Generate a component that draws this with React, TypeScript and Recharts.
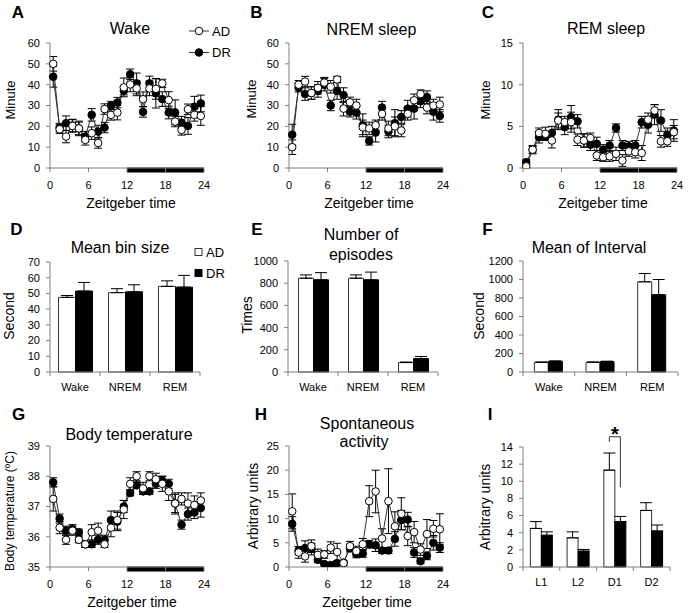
import React from 'react';
import {
  LineChart,
  Line,
  BarChart,
  Bar,
  XAxis,
  YAxis,
  ErrorBar,
  ReferenceLine,
  LabelList,
} from 'recharts';

const FONT = '"Liberation Sans", Arial, Helvetica, sans-serif';
const AXIS = '#808080';

// ---------- time-course data (ZT bins) ----------
const zt = [0.5, 1.5, 2.5, 3.5, 4.5, 5.5, 6.5, 7.5, 8.5, 9.5, 10.5, 11.5, 12.5, 13.5, 14.5, 15.5, 16.5, 17.5, 18.5, 19.5, 20.5, 21.5, 22.5, 23.5];
const ztTicks = [0, 6, 12, 18, 24];
const darkPhase = [12, 24];

const wakeAD = [50, 18.6, 15.1, 20.2, 19, 13.5, 16.7, 12, 28.3, 25.5, 26.6, 38.7, 40.1, 38.2, 33, 38.2, 38, 40.6, 32.6, 22.3, 18.3, 28.2, 25.5, 25];
const wakeADErr = [3.5, 2, 3, 3, 3, 2.5, 3, 2.5, 2.5, 2.5, 3.5, 4.5, 3.5, 3.5, 3.5, 3.5, 5, 2, 4, 2.5, 2.5, 2.5, 3, 4.5];
const wakeDR = [43.8, 19.4, 21.5, 20.4, 19, 15.1, 25.5, 17.5, 19.4, 30, 31.4, 37.1, 45, 40.6, 26.9, 40.6, 35.8, 33.1, 26.6, 26.7, 21.8, 20.2, 29.4, 31];
const wakeDRErr = [5, 2, 3.5, 3, 3.5, 2.5, 3, 3, 2.5, 2, 2.5, 2, 2.5, 5, 2.5, 3.5, 7, 3.5, 3, 6, 3, 4, 5, 4];

const nremAD = [10, 40, 41.5, 36, 38.5, 41, 39, 42.5, 28.5, 31.5, 30, 19.5, 19, 20.5, 26, 19, 20, 18, 26, 32.5, 35.5, 29, 30, 30.5];
const nremADErr = [3.5, 2, 2.5, 3, 3, 2.5, 3, 1.5, 3.5, 2.5, 3, 3.5, 3, 2.5, 3, 3.5, 4.5, 3, 3, 3, 2, 3, 3, 3.5];
const nremDR = [16, 38.5, 35.5, 36, 37, 40, 30, 37, 35, 27, 26.5, 20.5, 13, 17, 29, 17.5, 21.5, 24.5, 28.5, 28.5, 32, 34, 27, 25];
const nremDRErr = [5, 2, 3, 3, 3, 3, 2.5, 4, 3.5, 2.5, 3, 5.5, 2, 4.5, 3, 3, 6.5, 3, 4, 5, 3, 3, 4, 3];

const remAD = [0.2, 2.2, 4.2, 4.1, 3.3, 5.7, 5.5, 5.5, 3.4, 3.3, 3.6, 1.5, 1.3, 1.4, 1.7, 0.9, 2.0, 1.9, 1.8, 5.8, 6.9, 3.2, 3.2, 4.3];
const remADErr = [0.2, 0.5, 0.6, 0.8, 0.9, 0.9, 0.7, 1.2, 0.7, 0.8, 0.6, 0.6, 0.5, 0.6, 0.8, 0.7, 0.6, 0.7, 0.9, 0.8, 0.7, 0.7, 0.6, 0.8];
const remDR = [0.7, 2.2, 3.7, 3.8, 4.2, 5.8, 4.9, 6.1, 5.6, 3.3, 2.8, 2.9, 2.2, 2.7, 4.8, 2.7, 2.6, 2.7, 5.5, 5.2, 6.4, 5.7, 4.0, 4.5];
const remDRErr = [0.3, 0.4, 0.7, 0.5, 0.8, 1.2, 0.9, 1.4, 0.8, 0.8, 0.7, 0.8, 0.6, 0.6, 0.5, 0.6, 0.6, 0.6, 0.7, 1.0, 1.2, 1.3, 0.8, 1.3];

const tempAD = [37.25, 36.3, 35.9, 36.2, 35.9, 35.75, 36.15, 36.2, 35.75, 36.3, 36.55, 36.9, 37.75, 38.0, 37.6, 38.0, 37.9, 37.75, 37.5, 37.1, 37.25, 37.1, 37.05, 37.2];
const tempADErr = [0.4, 0.2, 0.15, 0.15, 0.1, 0.1, 0.25, 0.25, 0.1, 0.3, 0.3, 0.3, 0.2, 0.15, 0.2, 0.15, 0.2, 0.25, 0.3, 0.35, 0.2, 0.35, 0.3, 0.25];
const tempDR = [37.8, 36.6, 36.2, 36.25, 36.15, 35.75, 35.75, 35.9, 35.9, 36.55, 36.5, 37.0, 37.45, 37.7, 37.5, 37.5, 37.75, 37.85, 37.75, 37.1, 36.4, 36.75, 36.8, 36.95];
const tempDRErr = [0.15, 0.15, 0.15, 0.15, 0.1, 0.1, 0.1, 0.15, 0.15, 0.3, 0.3, 0.2, 0.1, 0.1, 0.1, 0.1, 0.15, 0.15, 0.15, 0.3, 0.15, 0.2, 0.2, 0.3];

const actAD = [11.5, 3.0, 2.2, 4.3, 2.5, 2.6, 4.0, 3.1, 0.8, 4.3, 3.3, 4.7, 13.6, 15.6, 5.9, 13.6, 8.4, 11.0, 6.4, 7.2, 3.6, 6.8, 7.9, 7.8];
const actADErr = [3.6, 1.2, 1.2, 1.3, 1.2, 0.8, 1.2, 1.8, 0.5, 1.0, 1.0, 1.2, 3.2, 4.4, 2.0, 6.7, 3.0, 3.3, 2.0, 2.2, 1.2, 3.0, 1.7, 3.2];
const actDR = [8.9, 3.4, 3.9, 3.7, 1.5, 0.6, 0.4, 0.8, 0.9, 3.9, 2.7, 2.8, 4.7, 4.5, 3.4, 3.4, 5.8, 9.7, 9.8, 3.0, 1.2, 2.3, 5.0, 4.0];
const actDRErr = [1.5, 0.8, 1.5, 1.2, 0.6, 0.2, 0.2, 0.3, 0.3, 0.8, 0.8, 0.8, 0.8, 1.3, 0.6, 0.6, 1.5, 2.0, 1.5, 1.0, 0.5, 0.8, 1.5, 1.0];

// ---------- bar data ----------
const stageCats = ['Wake', 'NREM', 'REM'];
const binAD = [47.5, 50.5, 54.5];
const binADErr = [1.2, 2.5, 3.5];
const binDR = [51.5, 51, 54];
const binDRErr = [5.5, 4.5, 7.5];

const epiAD = [845, 845, 85];
const epiADErr = [30, 30, 5];
const epiDR = [830, 830, 120];
const epiDRErr = [65, 70, 20];

const intAD = [105, 105, 975];
const intADErr = [3, 3, 90];
const intDR = [115, 112, 835];
const intDRErr = [5, 5, 165];

const actCats = ['L1', 'L2', 'D1', 'D2'];
const actSumAD = [4.5, 3.4, 11.3, 6.6];
const actSumADErr = [0.8, 0.7, 2.0, 0.9];
const actSumDR = [3.7, 1.85, 5.3, 4.2];
const actSumDRErr = [0.4, 0.2, 0.6, 0.7];

const sigCategory = 'D1';
const sigTop = 15.2;
const sigLeftEnd = 14.6;
const sigRightEnd = 9.3;

// ---------- helpers ----------
const timeTable = (ad: number[], adE: number[], dr: number[], drE: number[]) =>
  zt.map((t, i) => ({ t, ad: ad[i], adErr: adE[i], dr: dr[i], drErr: drE[i] }));
const barTable = (cats: string[], ad: number[], adE: number[], dr: number[], drE: number[]) =>
  cats.map((c, i) => ({ cat: c, ad: ad[i], adErr: [0, adE[i]], dr: dr[i], drErr: [0, drE[i]] }));

const YW = 45;
const MT = 30;
const MR = 15;
const XH = 40;

type Box = { x0: number; x1: number; y0: number; y1: number };
const frame = (b: Box) => ({
  left: b.x0 - YW,
  top: b.y0 - MT,
  width: b.x1 - b.x0 + YW + MR,
  height: b.y1 - b.y0 + MT + XH,
});

const tickStyle = { fontSize: 11, fill: '#000', fontFamily: FONT };

const DarkBar = (p: any) => (
  <rect x={p.x1} y={p.y1 - 0.5} width={Math.max(0, p.x2 - p.x1)} height={5} fill="#000" />
);

function TimePanel({ box, data, yDomain, yTicks }: { box: Box; data: any[]; yDomain: [number, number]; yTicks: number[] }) {
  const f = frame(box);
  return (
    <div style={{ position: 'absolute', left: f.left, top: f.top }}>
      <LineChart width={f.width} height={f.height} data={data} margin={{ top: MT, right: MR, bottom: 0, left: 0 }}>
        <XAxis
          dataKey="t"
          type="number"
          domain={[0, 24]}
          ticks={ztTicks}
          interval={0}
          height={XH}
          stroke={AXIS}
          tickSize={4}
          tickMargin={9}
          tick={tickStyle}
        />
        <YAxis
          type="number"
          domain={yDomain}
          ticks={yTicks}
          interval={0}
          width={YW}
          stroke={AXIS}
          tickSize={4}
          tickMargin={6}
          tick={tickStyle}
          allowDataOverflow
        />
        <ReferenceLine
          segment={[{ x: darkPhase[0], y: yDomain[0] }, { x: darkPhase[1], y: yDomain[0] }]}
          shape={DarkBar}
          ifOverflow="visible"
        />
        <Line
          dataKey="dr"
          stroke="#333"
          strokeWidth={1}
          dot={{ r: 3.8, fill: '#000', stroke: '#000', strokeWidth: 1 }}
          activeDot={false}
          isAnimationActive={false}
        >
          <ErrorBar dataKey="drErr" direction="y" width={4} stroke="#000" strokeWidth={1} />
        </Line>
        <Line
          dataKey="ad"
          stroke="#333"
          strokeWidth={1}
          dot={{ r: 3.8, fill: '#fff', stroke: '#000', strokeWidth: 1 }}
          activeDot={false}
          isAnimationActive={false}
        >
          <ErrorBar dataKey="adErr" direction="y" width={4} stroke="#000" strokeWidth={1} />
        </Line>
      </LineChart>
    </div>
  );
}

function CatTick(props: any) {
  const { x, y, payload, index, bw, n } = props;
  const axisY = y - 11;
  return (
    <g>
      <line x1={x - bw / 2} x2={x - bw / 2} y1={axisY} y2={axisY + 4} stroke={AXIS} />
      {index === n - 1 ? <line x1={x + bw / 2} x2={x + bw / 2} y1={axisY} y2={axisY + 4} stroke={AXIS} /> : null}
      <text x={x} y={y} dy="0.71em" textAnchor="middle" fontSize={11} fill="#000" fontFamily={FONT}>
        {payload.value}
      </text>
    </g>
  );
}

function SigBracket(props: any) {
  const vb = props.viewBox || {};
  const x = props.x ?? vb.x;
  const y = props.y ?? vb.y;
  const width = props.width ?? vb.width;
  const height = props.height ?? vb.height;
  const value = Array.isArray(props.value) ? props.value[1] : props.value;
  const idx = props.index;
  const isSig = idx !== undefined ? actCats[idx] === sigCategory : value === actSumDR[actCats.indexOf(sigCategory)];
  if (!isSig || !value || !height) return null;
  const unit = height / value;
  const base = y + height;
  const yv = (v: number) => base - v * unit;
  const wx = x - width / 2;
  const bx = x + width / 2;
  return (
    <g>
      <path
        d={`M${wx},${yv(sigLeftEnd)} V${yv(sigTop)} H${bx} V${yv(sigRightEnd)}`}
        fill="none"
        stroke="#333"
        strokeWidth={1}
      />
      <text
        x={(wx + bx) / 2}
        y={yv(sigTop) + 4}
        textAnchor="middle"
        fontSize={20}
        fontWeight="bold"
        fontFamily={FONT}
        fill="#000"
      >
        *
      </text>
    </g>
  );
}

function BarPanel({
  box,
  data,
  yDomain,
  yTicks,
  gap,
  sig,
}: {
  box: Box;
  data: any[];
  yDomain: [number, number];
  yTicks: number[];
  gap: string;
  sig?: boolean;
}) {
  const f = frame(box);
  const n = data.length;
  const bw = (box.x1 - box.x0) / n;
  return (
    <div style={{ position: 'absolute', left: f.left, top: f.top }}>
      <BarChart
        width={f.width}
        height={f.height}
        data={data}
        margin={{ top: MT, right: MR, bottom: 0, left: 0 }}
        barCategoryGap={gap}
        barGap={0}
      >
        <XAxis
          dataKey="cat"
          height={XH}
          stroke={AXIS}
          tickLine={false}
          tickSize={4}
          tickMargin={7}
          interval={0}
          tick={(p: any) => <CatTick {...p} bw={bw} n={n} />}
        />
        <YAxis
          type="number"
          domain={yDomain}
          ticks={yTicks}
          interval={0}
          width={YW}
          stroke={AXIS}
          tickSize={4}
          tickMargin={6}
          tick={tickStyle}
        />
        <Bar dataKey="ad" fill="#fff" stroke="#333" strokeWidth={1} isAnimationActive={false}>
          <ErrorBar dataKey="adErr" direction="y" width={6} stroke="#000" strokeWidth={1} />
        </Bar>
        <Bar dataKey="dr" fill="#000" stroke="#000" strokeWidth={1} isAnimationActive={false}>
          <ErrorBar dataKey="drErr" direction="y" width={6} stroke="#000" strokeWidth={1} />
          {sig ? <LabelList dataKey="dr" content={SigBracket} /> : null}
        </Bar>
      </BarChart>
    </div>
  );
}

// ---------- layout (plot rectangles) ----------
const boxA: Box = { x0: 50, x1: 204, y0: 43, y1: 168 };
const boxB: Box = { x0: 289, x1: 443, y0: 43, y1: 168 };
const boxC: Box = { x0: 523, x1: 677, y0: 43, y1: 168 };
const boxD: Box = { x0: 50, x1: 200, y0: 262, y1: 372 };
const boxE: Box = { x0: 288, x1: 438, y0: 261, y1: 372 };
const boxF: Box = { x0: 523, x1: 678, y0: 261, y1: 372 };
const boxG: Box = { x0: 50, x1: 204, y0: 446, y1: 567 };
const boxH: Box = { x0: 289, x1: 443, y0: 446, y1: 567 };
const boxI: Box = { x0: 523, x1: 670, y0: 447, y1: 567 };

const T = (props: any) => (
  <text
    textAnchor="middle"
    dominantBaseline="central"
    fontFamily={FONT}
    fill="#000"
    {...props}
  />
);

const YLabel = ({ x, y, size = 14, children }: any) => (
  <text
    x={x}
    y={y}
    transform={`rotate(-90 ${x} ${y})`}
    textAnchor="middle"
    dominantBaseline="central"
    fontFamily={FONT}
    fontSize={size}
    fill="#000"
  >
    {children}
  </text>
);

export default function App() {
  return (
    <div style={{ position: 'absolute', left: 0, top: 0, width: 689, height: 613, background: '#fff', overflow: 'hidden' }}>
      <TimePanel box={boxA} data={timeTable(wakeAD, wakeADErr, wakeDR, wakeDRErr)} yDomain={[0, 60]} yTicks={[0, 10, 20, 30, 40, 50, 60]} />
      <TimePanel box={boxB} data={timeTable(nremAD, nremADErr, nremDR, nremDRErr)} yDomain={[0, 60]} yTicks={[0, 10, 20, 30, 40, 50, 60]} />
      <TimePanel box={boxC} data={timeTable(remAD, remADErr, remDR, remDRErr)} yDomain={[0, 15]} yTicks={[0, 5, 10, 15]} />
      <BarPanel box={boxD} data={barTable(stageCats, binAD, binADErr, binDR, binDRErr)} yDomain={[0, 70]} yTicks={[0, 10, 20, 30, 40, 50, 60, 70]} gap="17%" />
      <BarPanel box={boxE} data={barTable(stageCats, epiAD, epiADErr, epiDR, epiDRErr)} yDomain={[0, 1000]} yTicks={[0, 200, 400, 600, 800, 1000]} gap="21%" />
      <BarPanel box={boxF} data={barTable(stageCats, intAD, intADErr, intDR, intDRErr)} yDomain={[0, 1200]} yTicks={[0, 200, 400, 600, 800, 1000, 1200]} gap="22%" />
      <TimePanel box={boxG} data={timeTable(tempAD, tempADErr, tempDR, tempDRErr)} yDomain={[35, 39]} yTicks={[35, 36, 37, 38, 39]} />
      <TimePanel box={boxH} data={timeTable(actAD, actADErr, actDR, actDRErr)} yDomain={[0, 25]} yTicks={[0, 5, 10, 15, 20, 25]} />
      <BarPanel box={boxI} data={barTable(actCats, actSumAD, actSumADErr, actSumDR, actSumDRErr)} yDomain={[0, 14]} yTicks={[0, 2, 4, 6, 8, 10, 12, 14]} gap="20%" sig />

      <svg width={689} height={613} style={{ position: 'absolute', left: 0, top: 0, pointerEvents: 'none' }}>
        {/* panel letters */}
        <T x={18} y={12} fontSize={17} fontWeight="bold">A</T>
        <T x={256.5} y={12} fontSize={17} fontWeight="bold">B</T>
        <T x={488} y={12} fontSize={17} fontWeight="bold">C</T>
        <T x={16.5} y={229} fontSize={17} fontWeight="bold">D</T>
        <T x={257} y={229} fontSize={17} fontWeight="bold">E</T>
        <T x={487.5} y={229} fontSize={17} fontWeight="bold">F</T>
        <T x={18.5} y={414} fontSize={17} fontWeight="bold">G</T>
        <T x={261} y={414} fontSize={17} fontWeight="bold">H</T>
        <T x={490} y={414} fontSize={17} fontWeight="bold">I</T>

        {/* titles */}
        <T x={130} y={28} fontSize={16}>Wake</T>
        <T x={371.5} y={29} fontSize={16}>NREM sleep</T>
        <T x={606} y={28} fontSize={16}>REM sleep</T>
        <T x={120} y={247} fontSize={16}>Mean bin size</T>
        <T x={361} y={234} fontSize={16}>Number of</T>
        <T x={361} y={254} fontSize={16}>episodes</T>
        <T x={589} y={247} fontSize={16}>Mean of Interval</T>
        <T x={129} y={434} fontSize={16}>Body temperature</T>
        <T x={367} y={423} fontSize={16}>Spontaneous</T>
        <T x={364} y={441} fontSize={16}>activity</T>

        {/* x axis titles */}
        <T x={131} y={203} fontSize={14}>Zeitgeber time</T>
        <T x={369} y={203} fontSize={14}>Zeitgeber time</T>
        <T x={603} y={203} fontSize={14}>Zeitgeber time</T>
        <T x={132} y={601.5} fontSize={14}>Zeitgeber time</T>
        <T x={367} y={601.5} fontSize={14}>Zeitgeber time</T>

        {/* y axis titles */}
        <YLabel x={10} y={100} size={13}>Minute</YLabel>
        <YLabel x={251.5} y={99} size={13}>Minute</YLabel>
        <YLabel x={485} y={100} size={13}>Minute</YLabel>
        <YLabel x={8.5} y={316}>Second</YLabel>
        <YLabel x={246.5} y={315}>Times</YLabel>
        <YLabel x={478.5} y={316}>Second</YLabel>
        <YLabel x={9.5} y={511} size={12}>Body temperature (ºC)</YLabel>
        <YLabel x={252.5} y={506}>Arbitrary units</YLabel>
        <YLabel x={485} y={507}>Arbitrary units</YLabel>

        {/* legend A */}
        <line x1={189} x2={209} y1={31} y2={31} stroke="#333" strokeWidth={1} />
        <circle cx={199} cy={31} r={3.8} fill="#fff" stroke="#000" strokeWidth={1} />
        <T x={212} y={31} fontSize={13} textAnchor="start">AD</T>
        <line x1={189} x2={209} y1={52.5} y2={52.5} stroke="#333" strokeWidth={1} />
        <circle cx={199} cy={52.5} r={3.8} fill="#000" stroke="#000" strokeWidth={1} />
        <T x={212} y={52.5} fontSize={13} textAnchor="start">DR</T>

        {/* legend D */}
        <rect x={195} y={248.5} width={7} height={7} fill="#fff" stroke="#333" strokeWidth={1} />
        <T x={206} y={252} fontSize={13} textAnchor="start">AD</T>
        <rect x={195} y={269.5} width={7} height={7} fill="#000" stroke="#000" strokeWidth={1} />
        <T x={206} y={273} fontSize={13} textAnchor="start">DR</T>
      </svg>
    </div>
  );
}
